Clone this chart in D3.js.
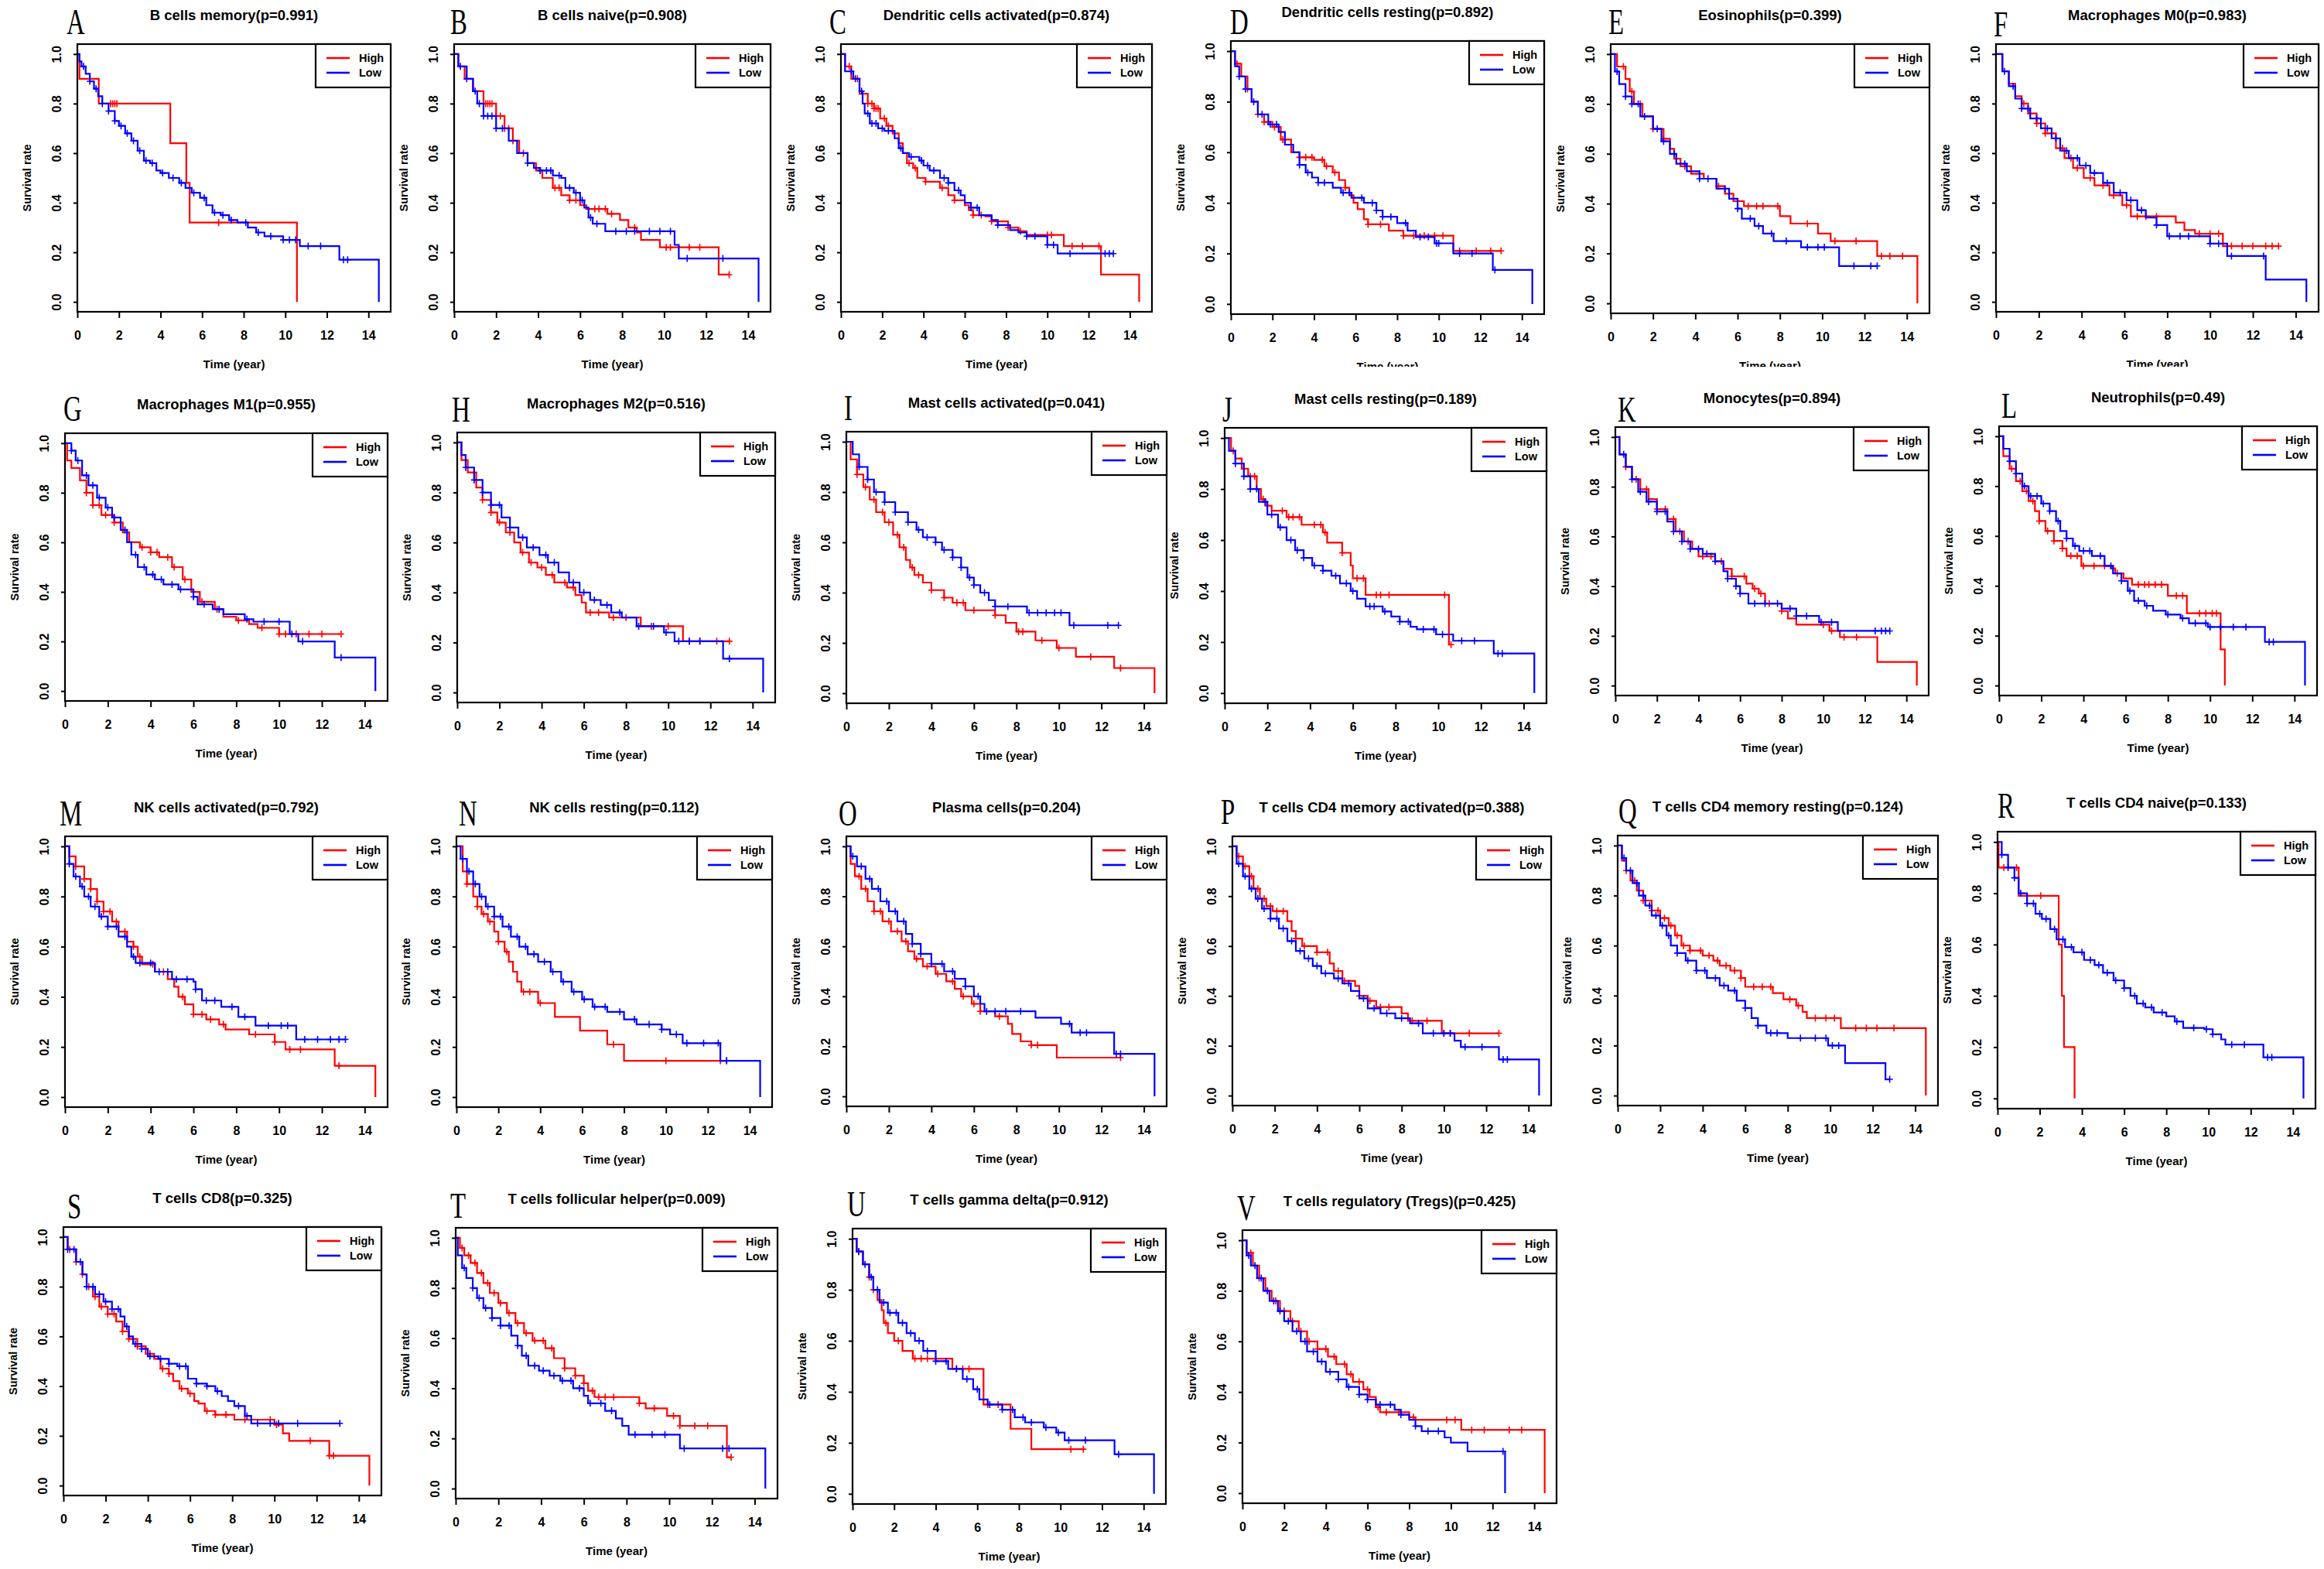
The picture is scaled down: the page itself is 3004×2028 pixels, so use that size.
<!DOCTYPE html>
<html><head><meta charset="utf-8">
<script src="https://cdn.jsdelivr.net/npm/d3@7"></script>
<style>body{margin:0;background:#fff} svg{display:block}</style>
</head><body><svg id="chart" width="3004" height="2028"></svg>
<script>
// ---------------- DATA ----------------
const letters = ["A","B","C","D","E","F","G","H","I","J","K","L","M","N","O","P","Q","R","S","T","U","V"];
const cellTypes = ["B cells memory","B cells naive","Dendritic cells activated","Dendritic cells resting","Eosinophils","Macrophages M0","Macrophages M1","Macrophages M2","Mast cells activated","Mast cells resting","Monocytes","Neutrophils","NK cells activated","NK cells resting","Plasma cells","T cells CD4 memory activated","T cells CD4 memory resting","T cells CD4 naive","T cells CD8","T cells follicular helper","T cells gamma delta","T cells regulatory (Tregs)"];
const pValues = ["0.991","0.908","0.874","0.892","0.399","0.983","0.955","0.516","0.041","0.189","0.894","0.49","0.792","0.112","0.204","0.388","0.124","0.133","0.325","0.009","0.912","0.425"];
const xTicks = [0,2,4,6,8,10,12,14];
const yTicks = [0,0.2,0.4,0.6,0.8,1.0];
const legendLabels = ["High","Low"];
const xAxisTitle = "Time (year)";
const yAxisTitle = "Survival rate";

// survival steps [time, survival] and censor times, High (red) / Low (blue)
const highA = [[0,1],[0.1,0.9],[1.03,0.8],[4.47,0.64],[5.24,0.48],[5.4,0.32],[10.56,0]];
const highA_c = [1.6,1.7,1.8,1.9,6.8];
const lowA = [[0,1],[0.1,0.97],[0.2,0.95],[0.4,0.92],[0.6,0.89],[0.8,0.86],[1.0,0.83],[1.2,0.8],[1.5,0.77],[1.8,0.73],[2.0,0.71],[2.3,0.68],[2.6,0.65],[2.9,0.61],[3.2,0.57],[3.5,0.56],[3.8,0.53],[4.0,0.52],[4.4,0.5],[4.9,0.48],[5.2,0.46],[5.5,0.44],[5.9,0.42],[6.2,0.39],[6.5,0.36],[6.9,0.35],[7.3,0.33],[7.7,0.32],[8.2,0.3],[8.6,0.28],[9.0,0.265],[9.9,0.25],[10.7,0.225],[12.6,0.17],[14.5,0]];
const lowA_c = [0.3,0.6,0.9,1.2,1.5,1.8,2.1,2.4,2.7,3.0,3.3,3.6,4.1,4.6,5.0,5.6,6.1,6.6,7.0,7.4,8.1,8.7,9.3,9.9,10.2,10.5,11.1,11.7,12.8,13.0];

const highB = [[0,1],[0.2,0.95],[0.5,0.9],[0.9,0.85],[1.4,0.8],[2.0,0.75],[2.4,0.7],[2.8,0.65],[3.1,0.6],[3.5,0.56],[3.9,0.53],[4.2,0.5],[4.7,0.46],[5.1,0.43],[5.5,0.41],[6.0,0.39],[6.3,0.375],[7.3,0.355],[7.9,0.33],[8.3,0.3],[8.7,0.28],[8.9,0.25],[9.8,0.22],[12.6,0.11]];
const highB_c = [1.5,1.6,1.7,1.8,2.0,2.2,2.4,2.6,2.8,3.3,4.1,4.8,5.0,5.5,5.8,6.7,6.9,7.2,7.5,8.6,10.1,10.3,11.2,11.7,13.1];
const lowB = [[0,1],[0.2,0.95],[0.6,0.9],[0.9,0.85],[1.1,0.8],[1.4,0.75],[2.0,0.7],[2.6,0.65],[3.0,0.6],[3.5,0.56],[3.8,0.54],[4.1,0.53],[4.7,0.51],[5.1,0.5],[5.3,0.46],[5.7,0.44],[6.0,0.41],[6.2,0.38],[6.4,0.34],[6.6,0.315],[7.2,0.285],[10.5,0.23],[10.7,0.175],[14.5,0]];
const lowB_c = [0.3,0.6,1.0,1.2,1.4,1.6,1.8,2.0,2.3,3.5,4.1,4.4,4.6,5.0,5.5,5.8,6.1,6.5,6.8,7.7,8.2,8.6,9.3,9.8,10.3,11.1,12.8];

const highC = [[0,1],[0.2,0.95],[0.5,0.9],[0.9,0.84],[1.3,0.8],[1.6,0.78],[1.9,0.74],[2.2,0.71],[2.5,0.68],[2.8,0.64],[3.0,0.6],[3.2,0.56],[3.5,0.54],[3.7,0.5],[4.1,0.485],[4.8,0.46],[5.2,0.43],[5.5,0.41],[6.0,0.39],[6.2,0.37],[6.4,0.35],[7.0,0.345],[7.3,0.325],[8.1,0.3],[8.6,0.285],[9.0,0.27],[10.8,0.225],[12.6,0.11],[14.45,0]];
const highC_c = [0.4,0.8,1.3,1.5,1.6,1.7,1.8,2.1,2.3,3.3,3.6,4.1,4.9,5.5,6.4,6.8,7.3,8.1,8.7,10.0,10.2,11.2,11.7,12.5];
const lowC = [[0,1],[0.2,0.93],[0.6,0.9],[0.9,0.85],[1.05,0.8],[1.15,0.76],[1.4,0.72],[1.8,0.7],[2.1,0.69],[2.6,0.66],[2.8,0.62],[3.0,0.6],[3.3,0.585],[3.8,0.57],[4.0,0.55],[4.3,0.53],[4.8,0.5],[5.2,0.48],[5.5,0.45],[5.8,0.43],[6.0,0.4],[6.3,0.38],[6.7,0.35],[7.3,0.33],[7.6,0.31],[8.2,0.29],[8.6,0.28],[9.0,0.265],[10.0,0.23],[10.5,0.195]];
const lowC_c = [0.5,0.7,1.0,1.3,1.5,1.7,2.0,2.3,2.9,3.4,3.9,4.2,4.5,5.0,5.2,5.7,6.3,6.6,7.6,9.0,9.4,10.0,10.3,11.1,12.8,13.0,13.2];

const highD = [[0,1],[0.2,0.95],[0.5,0.9],[0.8,0.85],[1.0,0.8],[1.3,0.75],[1.6,0.72],[2.0,0.7],[2.4,0.65],[2.9,0.6],[3.3,0.58],[4.0,0.57],[4.5,0.545],[4.9,0.52],[5.2,0.49],[5.5,0.46],[5.7,0.43],[5.9,0.4],[6.1,0.375],[6.4,0.335],[6.6,0.315],[7.6,0.29],[8.3,0.27],[10.7,0.21]];
const highD_c = [0.3,0.8,1.3,1.6,2.1,2.5,3.3,3.6,3.9,4.4,4.6,5.0,5.5,6.6,7.2,8.3,8.8,9.3,9.8,10.2,11.0,11.8,12.5,13.0];
const lowD = [[0,1],[0.2,0.94],[0.4,0.9],[0.7,0.85],[1.0,0.8],[1.3,0.75],[1.8,0.71],[2.3,0.68],[2.6,0.63],[3.0,0.6],[3.3,0.55],[3.6,0.52],[3.9,0.5],[4.2,0.48],[4.9,0.46],[5.3,0.44],[5.8,0.42],[6.4,0.4],[7.0,0.37],[7.3,0.345],[8.0,0.32],[8.5,0.29],[8.9,0.265],[9.8,0.24],[10.7,0.2],[12.6,0.135],[14.5,0]];
const lowD_c = [0.4,0.7,1.1,1.5,1.9,2.2,3.3,3.7,4.2,4.5,5.4,5.7,6.3,6.8,7.0,7.3,7.7,8.4,9.1,9.5,9.9,10.0,11.0,11.6,12.7];

const highE = [[0,1],[0.3,0.95],[0.7,0.9],[0.9,0.85],[1.1,0.8],[1.5,0.75],[2.0,0.7],[2.5,0.66],[2.8,0.62],[3.0,0.58],[3.3,0.55],[3.8,0.52],[4.4,0.5],[5.0,0.47],[5.4,0.44],[5.8,0.41],[6.3,0.39],[8.0,0.35],[8.5,0.32],[9.8,0.28],[10.4,0.25],[12.6,0.19],[14.5,0]];
const highE_c = [0.6,1.0,1.4,2.0,2.5,3.5,4.2,5.1,6.5,6.9,7.2,7.9,9.3,10.6,11.6,12.8,13.2,13.8];
const lowE = [[0,1],[0.2,0.93],[0.4,0.88],[0.7,0.83],[1.0,0.8],[1.4,0.75],[2.0,0.7],[2.4,0.65],[2.8,0.6],[3.1,0.56],[3.6,0.53],[4.2,0.5],[5.0,0.46],[5.6,0.42],[6.0,0.38],[6.2,0.34],[6.8,0.31],[7.2,0.28],[7.7,0.25],[9.0,0.225],[10.8,0.15]];
const lowE_c = [0.3,0.7,1.0,1.3,1.6,2.2,2.5,3.0,3.5,4.2,4.6,5.4,6.0,6.6,7.0,7.6,8.3,9.3,9.8,10.1,11.5,12.3,12.6];

const highF = [[0,1],[0.3,0.93],[0.6,0.88],[0.9,0.83],[1.2,0.8],[1.5,0.76],[1.9,0.72],[2.3,0.68],[2.8,0.62],[3.2,0.58],[3.6,0.54],[4.1,0.5],[4.6,0.47],[5.3,0.43],[5.9,0.39],[6.3,0.345],[8.4,0.32],[8.8,0.29],[9.3,0.275],[10.6,0.225]];
const highF_c = [1.3,1.6,1.9,2.3,2.6,3.1,3.5,3.8,4.4,5.0,5.5,6.1,6.6,7.0,7.5,9.5,10.0,10.4,11.0,11.5,12.0,12.6,12.9,13.2];
const lowF = [[0,1],[0.3,0.93],[0.6,0.87],[0.9,0.82],[1.2,0.78],[1.6,0.74],[2.1,0.7],[2.6,0.66],[3.0,0.61],[3.4,0.58],[3.9,0.55],[4.4,0.52],[5.0,0.48],[5.5,0.44],[6.1,0.41],[6.6,0.37],[7.0,0.34],[7.5,0.31],[8.0,0.265],[10.0,0.235],[10.8,0.185],[12.6,0.09],[14.5,0]];
const lowF_c = [0.4,0.8,1.2,1.5,1.9,2.4,2.8,3.3,3.8,4.2,4.6,5.2,5.8,6.3,6.8,7.5,8.1,8.6,9.0,10.0,10.4,11.0,12.5];

const highG = [[0,1],[0.1,0.93],[0.3,0.9],[0.7,0.85],[1.0,0.8],[1.3,0.75],[1.7,0.71],[2.3,0.68],[2.7,0.64],[3.0,0.6],[3.5,0.58],[4.0,0.56],[4.4,0.54],[5.0,0.5],[5.5,0.45],[5.9,0.4],[6.3,0.36],[7.0,0.33],[7.4,0.3],[8.0,0.285],[8.6,0.27],[9.0,0.255],[10.0,0.23]];
const highG_c = [1.0,1.3,1.6,1.9,2.3,3.6,4.0,4.3,4.8,5.1,5.6,6.4,7.1,8.1,9.2,10.0,10.3,10.8,11.4,12.0,12.9];
const lowG = [[0,1],[0.3,0.97],[0.5,0.93],[0.8,0.87],[1.1,0.83],[1.5,0.78],[1.9,0.74],[2.2,0.7],[2.6,0.65],[2.9,0.6],[3.1,0.55],[3.4,0.5],[3.8,0.47],[4.2,0.45],[4.6,0.43],[5.3,0.41],[6.0,0.38],[6.2,0.35],[6.9,0.33],[7.4,0.31],[8.4,0.29],[8.8,0.28],[10.5,0.23],[10.9,0.2],[12.6,0.135],[14.5,0]];
const lowG_c = [0.3,0.6,1.0,1.3,1.6,2.0,2.3,2.8,3.3,3.7,4.1,4.5,5.0,5.4,6.0,6.5,7.2,8.5,9.3,10.0,10.6,11.1,12.9];

const highH = [[0,1],[0.2,0.93],[0.5,0.88],[0.9,0.82],[1.2,0.77],[1.6,0.72],[1.9,0.68],[2.3,0.64],[2.7,0.6],[3.0,0.56],[3.4,0.52],[3.8,0.5],[4.2,0.47],[4.6,0.44],[5.2,0.42],[5.6,0.39],[5.9,0.36],[6.1,0.32],[7.2,0.3],[8.7,0.265],[10.7,0.205]];
const highH_c = [0.8,1.2,1.6,2.0,2.5,3.1,3.5,4.0,4.5,5.1,5.5,6.3,6.7,7.4,8.0,9.2,10.0,11.0,11.5,12.3,12.9];
const lowH = [[0,1],[0.2,0.95],[0.4,0.9],[0.8,0.85],[1.2,0.8],[1.6,0.75],[2.1,0.7],[2.5,0.66],[2.9,0.62],[3.3,0.58],[3.9,0.55],[4.3,0.52],[4.8,0.48],[5.3,0.44],[5.8,0.4],[6.3,0.37],[6.8,0.35],[7.3,0.32],[7.8,0.3],[8.5,0.265],[9.8,0.24],[10.3,0.205],[12.6,0.135],[14.5,0]];
const lowH_c = [0.4,0.8,1.2,1.6,2.0,2.5,3.1,3.6,4.2,4.6,5.5,6.0,6.5,7.1,7.7,8.6,9.3,9.9,10.5,11.0,11.5,12.9];

const highI = [[0,1],[0.2,0.93],[0.5,0.87],[0.8,0.82],[1.1,0.77],[1.4,0.72],[1.8,0.68],[2.2,0.63],[2.5,0.58],[2.8,0.53],[3.0,0.5],[3.2,0.47],[3.6,0.44],[4.0,0.41],[4.6,0.38],[5.0,0.36],[5.6,0.33],[7.0,0.31],[7.5,0.28],[8.0,0.245],[8.9,0.21],[9.9,0.18],[10.8,0.145],[12.6,0.1],[14.5,0]];
const highI_c = [0.5,0.9,1.3,1.7,2.0,2.4,2.7,3.1,3.4,4.0,4.6,5.2,5.5,6.0,7.0,8.1,8.3,9.2,10.0,11.5,12.9];
const lowI = [[0,1],[0.3,0.95],[0.6,0.9],[1.0,0.85],[1.3,0.8],[1.8,0.76],[2.3,0.72],[2.9,0.68],[3.3,0.65],[3.6,0.62],[4.2,0.6],[4.5,0.57],[5.0,0.54],[5.4,0.5],[5.7,0.46],[6.0,0.43],[6.3,0.4],[6.7,0.37],[7.0,0.345],[8.5,0.32],[10.5,0.27]];
const lowI_c = [0.6,1.0,1.4,1.8,2.3,2.9,3.4,3.8,4.2,4.6,5.0,5.4,5.8,6.0,6.5,7.0,7.6,8.6,9.0,9.4,9.8,10.1,10.7,12.3,12.8];

const highJ = [[0,1],[0.3,0.95],[0.5,0.92],[0.8,0.88],[1.1,0.85],[1.5,0.8],[1.7,0.76],[1.9,0.735],[2.2,0.715],[2.9,0.69],[3.6,0.66],[4.6,0.63],[4.8,0.59],[5.5,0.55],[5.9,0.5],[6.0,0.45],[6.6,0.385],[10.5,0.19]];
const highJ_c = [0.4,0.9,1.2,1.4,1.8,2.7,3.0,3.2,3.5,4.2,4.5,4.7,5.5,6.2,6.5,7.1,7.3,7.7,10.3,10.6];
const lowJ = [[0,1],[0.2,0.95],[0.5,0.9],[0.9,0.85],[1.2,0.8],[1.6,0.75],[2.0,0.7],[2.5,0.65],[2.9,0.6],[3.3,0.56],[3.7,0.53],[4.1,0.5],[4.6,0.48],[5.0,0.46],[5.4,0.43],[5.9,0.4],[6.2,0.37],[6.6,0.34],[7.4,0.32],[7.8,0.3],[8.2,0.28],[8.7,0.26],[9.0,0.25],[9.9,0.23],[10.7,0.205],[12.6,0.155],[14.5,0]];
const lowJ_c = [0.5,0.9,1.2,1.5,1.9,2.2,2.6,3.1,3.4,3.7,4.2,4.6,5.2,5.7,6.0,6.8,7.0,7.5,8.2,8.6,9.3,9.8,10.2,11.1,11.7,12.8,13.0];

const highK = [[0,1],[0.2,0.93],[0.5,0.88],[0.8,0.83],[1.2,0.79],[1.6,0.75],[2.0,0.71],[2.5,0.67],[2.9,0.62],[3.3,0.58],[3.7,0.55],[4.0,0.52],[4.8,0.5],[5.2,0.47],[5.6,0.44],[6.3,0.41],[6.6,0.39],[6.9,0.37],[7.2,0.33],[8.0,0.3],[8.3,0.27],[8.7,0.245],[10.3,0.22],[10.8,0.195],[12.6,0.095],[14.5,0]];
const highK_c = [0.5,1.0,1.5,2.0,2.4,2.8,3.1,3.5,4.2,4.6,5.1,5.6,6.2,6.7,7.0,7.4,8.0,10.0,10.4,11.0,11.6];
const lowK = [[0,1],[0.2,0.93],[0.5,0.88],[0.8,0.83],[1.1,0.78],[1.5,0.74],[2.0,0.7],[2.5,0.66],[2.8,0.62],[3.2,0.58],[3.6,0.55],[4.2,0.53],[4.8,0.5],[5.2,0.46],[5.4,0.43],[5.8,0.4],[6.0,0.37],[6.4,0.33],[8.0,0.31],[8.7,0.28],[9.8,0.255],[10.7,0.22]];
const lowK_c = [0.4,0.8,1.2,1.6,2.0,2.4,2.8,3.2,3.6,4.0,4.4,4.8,5.4,5.8,6.0,6.7,7.2,7.8,8.4,8.7,9.2,9.9,10.4,12.5,12.8,13.0,13.2];

const highL = [[0,1],[0.2,0.92],[0.5,0.87],[0.8,0.82],[1.1,0.78],[1.4,0.74],[1.7,0.7],[1.9,0.66],[2.2,0.62],[2.6,0.58],[3.0,0.55],[3.2,0.52],[3.9,0.48],[5.3,0.47],[5.5,0.45],[5.9,0.43],[6.3,0.405],[8.0,0.36],[8.9,0.29],[10.5,0.145],[10.7,0]];
const highL_c = [0.6,1.0,1.3,1.6,1.9,2.3,2.6,3.0,3.4,3.7,4.0,4.5,5.0,5.6,6.6,6.9,7.1,7.4,7.7,8.4,8.7,9.5,9.8,10.1,10.3];
const lowL = [[0,1],[0.2,0.95],[0.5,0.9],[0.8,0.85],[1.1,0.8],[1.4,0.76],[2.0,0.73],[2.4,0.7],[2.7,0.66],[2.9,0.62],[3.2,0.59],[3.5,0.56],[3.8,0.54],[4.4,0.52],[5.0,0.48],[5.4,0.45],[5.8,0.42],[6.1,0.38],[6.4,0.34],[6.9,0.32],[7.3,0.3],[7.9,0.285],[8.6,0.27],[9.0,0.25],[9.9,0.235],[12.6,0.175],[14.5,0]];
const lowL_c = [0.5,0.8,1.2,1.5,1.8,2.1,2.4,2.8,3.2,3.6,4.0,4.3,4.8,5.3,5.8,6.2,6.6,7.0,8.0,8.7,9.3,9.8,10.0,10.5,11.1,11.7,12.8,13.0];

const highM = [[0,1],[0.2,0.96],[0.5,0.92],[0.9,0.87],[1.2,0.83],[1.5,0.78],[1.8,0.74],[2.2,0.7],[2.5,0.66],[2.9,0.62],[3.2,0.6],[3.4,0.56],[3.6,0.53],[4.2,0.5],[4.8,0.47],[5.1,0.44],[5.3,0.4],[5.6,0.37],[6.0,0.33],[6.6,0.31],[7.2,0.29],[7.5,0.27],[8.6,0.25],[9.8,0.22],[10.3,0.19],[12.6,0.125],[14.5,0]];
const highM_c = [0.5,0.9,1.2,1.5,1.8,2.1,2.4,2.8,3.2,3.5,4.1,4.6,5.5,6.0,6.4,6.8,7.4,8.9,9.8,10.5,11.0,12.8];
const lowM = [[0,1],[0.2,0.93],[0.4,0.88],[0.7,0.84],[0.9,0.8],[1.2,0.76],[1.6,0.72],[2.0,0.68],[2.5,0.64],[2.9,0.6],[3.1,0.56],[3.3,0.535],[4.2,0.5],[5.0,0.47],[6.0,0.46],[6.1,0.43],[6.4,0.385],[7.3,0.36],[8.1,0.32],[8.9,0.285],[10.8,0.23]];
const lowM_c = [0.2,0.5,0.8,1.1,1.4,1.7,2.0,2.4,2.8,3.2,3.5,4.0,4.4,4.8,5.2,5.7,6.1,6.6,7.0,7.8,8.4,9.5,10.1,10.4,11.2,11.8,12.4,12.8,13.1];

const highN = [[0,1],[0.3,0.9],[0.5,0.85],[0.8,0.8],[1.0,0.76],[1.2,0.73],[1.5,0.7],[1.8,0.66],[2.0,0.62],[2.3,0.58],[2.5,0.54],[2.7,0.5],[2.9,0.46],[3.1,0.42],[3.9,0.375],[4.7,0.32],[5.9,0.265],[7.2,0.21],[8.0,0.145]];
const highN_c = [0.5,1.0,1.3,1.6,2.0,2.4,3.2,3.5,4.0,7.5,10.0,12.6,12.9];
const lowN = [[0,1],[0.2,0.95],[0.5,0.9],[0.8,0.85],[1.1,0.8],[1.4,0.76],[1.8,0.72],[2.2,0.68],[2.6,0.64],[3.0,0.6],[3.4,0.57],[3.9,0.54],[4.5,0.5],[5.0,0.46],[5.5,0.42],[6.0,0.39],[6.5,0.36],[7.2,0.34],[8.0,0.31],[8.6,0.29],[9.8,0.27],[10.2,0.25],[10.8,0.215],[12.6,0.145],[14.5,0]];
const lowN_c = [0.3,0.6,0.9,1.2,1.5,1.8,2.1,2.5,2.9,3.3,3.7,4.2,4.6,5.1,5.6,6.1,6.6,7.1,7.8,8.5,9.2,9.8,10.5,11.0,11.8,12.5,12.9];

const highO = [[0,1],[0.2,0.93],[0.4,0.88],[0.7,0.83],[1.0,0.78],[1.3,0.74],[1.7,0.7],[2.1,0.66],[2.6,0.62],[2.9,0.58],[3.2,0.55],[3.6,0.52],[4.2,0.49],[4.7,0.46],[5.1,0.43],[5.4,0.4],[5.9,0.37],[6.3,0.34],[7.0,0.32],[7.6,0.29],[7.8,0.25],[8.2,0.22],[8.7,0.205],[9.9,0.155]];
const highO_c = [0.6,0.9,1.3,1.6,2.0,2.4,2.8,3.3,3.8,4.3,5.0,5.5,6.0,6.3,7.2,8.7,9.0,12.9];
const lowO = [[0,1],[0.2,0.96],[0.5,0.92],[0.9,0.87],[1.2,0.83],[1.6,0.78],[2.0,0.74],[2.4,0.7],[2.8,0.65],[3.1,0.61],[3.5,0.57],[4.0,0.53],[4.6,0.5],[5.1,0.47],[5.6,0.44],[6.0,0.4],[6.3,0.37],[6.5,0.34],[8.9,0.315],[10.1,0.29],[10.6,0.255],[12.6,0.17],[14.5,0]];
const lowO_c = [0.3,0.7,1.1,1.5,1.9,2.3,2.7,3.1,3.5,4.0,4.5,5.0,5.6,6.2,6.6,7.0,7.5,8.2,10.5,11.0,11.3,12.7,12.9];

const highP = [[0,1],[0.2,0.96],[0.5,0.92],[0.8,0.88],[1.0,0.83],[1.3,0.79],[1.6,0.76],[1.9,0.74],[2.6,0.7],[2.8,0.66],[3.0,0.63],[3.3,0.6],[4.0,0.575],[4.6,0.53],[4.8,0.5],[5.2,0.46],[5.8,0.44],[6.0,0.4],[6.4,0.38],[6.8,0.355],[8.0,0.33],[8.3,0.3],[9.9,0.25]];
const highP_c = [0.3,0.6,0.9,1.2,1.5,1.8,2.1,2.4,3.0,3.4,4.0,4.5,5.0,5.3,6.0,6.5,7.0,7.4,8.5,9.2,10.0,10.3,11.2,12.6];
const lowP = [[0,1],[0.2,0.93],[0.5,0.88],[0.8,0.83],[1.1,0.79],[1.4,0.75],[1.8,0.71],[2.2,0.67],[2.6,0.62],[3.0,0.58],[3.4,0.55],[3.8,0.52],[4.2,0.49],[4.8,0.47],[5.2,0.45],[5.6,0.42],[6.0,0.39],[6.4,0.35],[7.0,0.33],[7.7,0.31],[8.4,0.29],[9.0,0.25],[10.5,0.22],[10.8,0.195],[12.6,0.145],[14.5,0]];
const lowP_c = [0.3,0.6,0.9,1.2,1.5,1.8,2.1,2.4,2.8,3.2,3.6,4.0,4.4,5.0,5.5,6.2,6.7,7.3,8.0,8.8,9.5,10.0,10.3,11.0,11.8,12.8,13.0];

const highQ = [[0,1],[0.2,0.94],[0.4,0.9],[0.6,0.86],[0.9,0.82],[1.2,0.78],[1.6,0.74],[2.0,0.71],[2.4,0.68],[2.7,0.64],[3.0,0.6],[3.4,0.58],[4.0,0.56],[4.5,0.54],[4.8,0.52],[5.3,0.5],[5.8,0.47],[6.0,0.435],[7.3,0.41],[7.8,0.385],[8.4,0.36],[8.7,0.335],[8.9,0.31],[10.5,0.27],[14.5,0]];
const highQ_c = [0.4,0.8,1.2,1.6,1.9,2.2,2.5,2.8,3.1,3.4,3.9,4.3,4.7,5.1,5.5,5.8,6.4,6.8,7.2,8.1,8.5,9.3,9.8,10.2,11.2,11.7,12.2,13.0];
const lowQ = [[0,1],[0.2,0.95],[0.4,0.9],[0.7,0.85],[1.0,0.8],[1.3,0.76],[1.6,0.72],[2.0,0.68],[2.3,0.64],[2.5,0.6],[2.8,0.57],[3.2,0.54],[3.7,0.5],[4.2,0.47],[4.8,0.44],[5.2,0.42],[5.6,0.38],[6.0,0.35],[6.3,0.31],[6.6,0.28],[7.0,0.25],[8.0,0.23],[9.9,0.2],[10.7,0.13],[12.6,0.065]];
const lowQ_c = [0.3,0.6,0.9,1.2,1.5,1.8,2.1,2.4,2.8,3.3,3.7,4.1,4.6,5.0,5.5,6.0,6.6,7.2,7.5,8.6,9.3,9.8,10.1,10.4,12.8];

const highR = [[0,1],[0.05,0.9],[1.0,0.79],[2.9,0.6],[3.05,0.4],[3.15,0.2],[3.65,0]];
const highR_c = [0.3,0.9,2.05];
const lowR = [[0,1],[0.2,0.95],[0.5,0.9],[0.8,0.86],[1.0,0.8],[1.4,0.76],[1.8,0.72],[2.1,0.7],[2.5,0.66],[2.8,0.62],[3.2,0.59],[3.6,0.57],[4.1,0.54],[4.6,0.52],[5.0,0.49],[5.5,0.46],[6.0,0.43],[6.3,0.4],[6.6,0.37],[7.0,0.355],[7.4,0.335],[8.0,0.32],[8.4,0.3],[8.8,0.275],[9.8,0.27],[10.2,0.25],[10.6,0.23],[10.8,0.21],[12.6,0.16],[14.5,0]];
const lowR_c = [0.2,0.5,0.8,1.1,1.4,1.7,2.0,2.3,2.7,3.1,3.5,4.0,4.4,4.8,5.2,5.6,6.0,6.5,6.9,7.3,7.8,8.5,9.3,9.9,10.2,11.1,11.7,12.8,13.0];

const highS = [[0,1],[0.2,0.95],[0.6,0.9],[0.9,0.85],[1.1,0.8],[1.4,0.76],[1.7,0.72],[2.1,0.69],[2.5,0.66],[2.8,0.62],[3.1,0.59],[3.5,0.56],[3.9,0.53],[4.3,0.51],[4.6,0.47],[5.0,0.45],[5.2,0.42],[5.5,0.39],[5.9,0.37],[6.2,0.34],[6.4,0.33],[6.7,0.3],[7.2,0.285],[8.1,0.265],[10.0,0.245],[10.4,0.21],[10.7,0.18],[12.6,0.12],[14.5,0]];
const highS_c = [0.3,0.6,0.9,1.2,1.5,1.8,2.1,2.4,2.8,3.1,3.5,4.1,4.7,5.0,5.6,6.0,6.8,7.2,7.7,8.6,9.8,10.1,11.7,12.6,12.8];
const lowS = [[0,1],[0.2,0.95],[0.6,0.9],[0.9,0.85],[1.1,0.8],[1.5,0.77],[1.9,0.74],[2.3,0.71],[2.7,0.68],[2.9,0.64],[3.1,0.6],[3.3,0.57],[3.7,0.55],[4.0,0.52],[4.5,0.51],[5.0,0.49],[5.4,0.48],[5.9,0.43],[6.3,0.41],[6.8,0.4],[7.2,0.38],[7.5,0.36],[7.8,0.34],[8.1,0.32],[8.6,0.28],[8.9,0.25]];
const lowS_c = [0.2,0.5,0.8,1.1,1.4,1.7,2.0,2.3,2.6,3.0,3.4,3.7,4.1,4.6,5.0,5.5,5.8,6.3,6.8,7.3,8.3,8.7,9.2,9.8,10.2,11.1,13.1];

const highT = [[0,1],[0.2,0.96],[0.4,0.93],[0.7,0.9],[1.0,0.86],[1.3,0.82],[1.6,0.78],[2.0,0.74],[2.4,0.7],[2.8,0.66],[3.2,0.62],[3.6,0.59],[4.2,0.56],[4.6,0.52],[5.1,0.48],[5.6,0.45],[6.0,0.42],[6.2,0.39],[6.5,0.365],[8.6,0.34],[8.9,0.32],[9.9,0.29],[10.5,0.25],[12.7,0.125]];
const highT_c = [0.3,0.6,0.9,1.2,1.5,1.8,2.1,2.5,2.9,3.3,3.7,4.1,4.5,5.1,5.6,6.0,6.4,6.7,7.0,7.4,8.6,9.3,10.2,10.5,11.2,11.8,12.9];
const lowT = [[0,1],[0.1,0.93],[0.3,0.88],[0.5,0.84],[0.8,0.8],[1.0,0.76],[1.3,0.72],[1.7,0.68],[2.1,0.65],[2.6,0.61],[2.9,0.57],[3.1,0.53],[3.4,0.49],[3.9,0.47],[4.4,0.45],[4.9,0.43],[5.5,0.4],[6.0,0.37],[6.2,0.34],[7.0,0.31],[7.5,0.28],[7.8,0.25],[8.1,0.215],[10.5,0.16],[14.5,0]];
const lowT_c = [0.4,0.8,1.1,1.4,1.7,2.1,2.5,2.9,3.3,3.7,4.1,4.6,5.0,5.4,5.8,6.3,6.8,7.3,8.4,9.2,9.8,10.7,12.5,12.8];

const highU = [[0,1],[0.2,0.95],[0.5,0.9],[0.8,0.85],[1.0,0.8],[1.2,0.76],[1.4,0.72],[1.5,0.67],[1.7,0.63],[2.0,0.6],[2.4,0.56],[2.9,0.53],[4.8,0.49],[6.3,0.35],[7.6,0.255],[8.6,0.175]];
const highU_c = [0.3,0.8,1.0,1.6,2.2,3.0,3.3,3.6,5.0,5.3,5.6,6.5,7.0,10.5,11.1];
const lowU = [[0,1],[0.2,0.95],[0.5,0.9],[0.8,0.85],[1.0,0.8],[1.3,0.75],[1.7,0.71],[2.2,0.67],[2.6,0.63],[3.0,0.6],[3.4,0.56],[4.0,0.52],[4.6,0.49],[5.3,0.45],[5.8,0.41],[6.1,0.37],[6.5,0.35],[7.2,0.33],[7.8,0.3],[8.3,0.28],[9.2,0.26],[9.8,0.24],[10.2,0.21],[12.6,0.155],[14.5,0]];
const lowU_c = [0.3,0.6,0.9,1.2,1.5,1.8,2.1,2.4,2.8,3.2,3.6,4.0,4.5,5.0,5.5,6.0,6.6,7.2,7.7,8.2,8.6,9.3,9.9,10.4,11.2,12.8];

const highV = [[0,1],[0.2,0.95],[0.5,0.9],[0.8,0.85],[1.1,0.8],[1.4,0.76],[1.8,0.72],[2.3,0.68],[2.7,0.64],[3.1,0.6],[3.6,0.57],[4.1,0.54],[4.5,0.51],[5.0,0.47],[5.3,0.44],[5.8,0.41],[6.1,0.38],[6.4,0.34],[6.6,0.32],[8.0,0.3],[8.3,0.29],[10.5,0.25],[14.5,0]];
const highV_c = [0.4,0.8,1.2,1.6,2.0,2.4,2.8,3.2,3.6,4.0,4.4,4.9,5.2,5.6,6.0,6.5,6.9,7.5,8.2,9.8,10.2,11.0,11.6,12.8,13.4];
const lowV = [[0,1],[0.2,0.94],[0.4,0.9],[0.7,0.85],[1.0,0.8],[1.3,0.76],[1.7,0.72],[2.0,0.68],[2.4,0.64],[2.8,0.6],[3.1,0.56],[3.6,0.52],[4.0,0.48],[4.6,0.45],[5.0,0.42],[5.6,0.39],[6.0,0.37],[6.4,0.35],[7.3,0.33],[7.6,0.31],[8.0,0.29],[8.3,0.265],[8.6,0.245],[9.7,0.22],[10.0,0.2],[10.8,0.165],[12.6,0]];
const lowV_c = [0.3,0.6,0.9,1.2,1.5,1.8,2.2,2.6,3.0,3.4,3.8,4.2,4.6,5.1,5.6,6.0,6.6,7.1,7.6,8.3,8.9,9.4,12.5];

const highCurves = [highA,highB,highC,highD,highE,highF,highG,highH,highI,highJ,highK,highL,highM,highN,highO,highP,highQ,highR,highS,highT,highU,highV];
const highCensors = [highA_c,highB_c,highC_c,highD_c,highE_c,highF_c,highG_c,highH_c,highI_c,highJ_c,highK_c,highL_c,highM_c,highN_c,highO_c,highP_c,highQ_c,highR_c,highS_c,highT_c,highU_c,highV_c];
const lowCurves = [lowA,lowB,lowC,lowD,lowE,lowF,lowG,lowH,lowI,lowJ,lowK,lowL,lowM,lowN,lowO,lowP,lowQ,lowR,lowS,lowT,lowU,lowV];
const lowCensors = [lowA_c,lowB_c,lowC_c,lowD_c,lowE_c,lowF_c,lowG_c,lowH_c,lowI_c,lowJ_c,lowK_c,lowL_c,lowM_c,lowN_c,lowO_c,lowP_c,lowQ_c,lowR_c,lowS_c,lowT_c,lowU_c,lowV_c];

// ---------------- LAYOUT (pixel geometry of each panel) ----------------
const panelBoxes = [
  [100,57,505,403],[587,57,996,403],[1087,57,1489,403],[1591,53,1996,406],[2082,57,2494,405],[2580,57,2997,403],
  [84,560,501,906],[591,559,1002,908],[1094,558,1508,909],[1583,553,1999,909],[2088,552,2493,899],[2584,551,2995,899],
  [84,1081,501,1431],[590,1081,998,1431],[1094,1081,1508,1430],[1593,1081,2005,1429],[2091,1080,2505,1429],[2582,1075,2993,1433],
  [82,1586,493,1933],[589,1587,1005,1937],[1102,1588,1507,1944],[1606,1590,2012,1943]
];
const letterPos = [
  [86,44],[582,44],[1072,44],[1590,44],[2079,44],[2577,47],
  [82,544],[584,545],[1091,543],[1580,545],[2091,545],[2587,540],
  [77,1067],[593,1067],[1084,1067],[1578,1065],[2092,1064],[2582,1057],
  [87,1575],[582,1574],[1095,1572],[1599,1577]
];
const xLabelClip = [null,null,null,474,474,474, null,null,null,null,null,null, null,null,null,null,null,null, null,null,null,null];
const curveColors = ["#ff0000","#0000ff"];
const SANS = "'Liberation Sans', Arial, Helvetica, sans-serif";
const SERIF = "'Liberation Serif', 'Times New Roman', serif";

// ---------------- DRAW ----------------
const svg = d3.select("#chart");
svg.append("rect").attr("width",3004).attr("height",2028).attr("fill","#fff");
const defs = svg.append("defs");

function survAt(steps, t) {
  let s = 1;
  for (const [a, v] of steps) if (a <= t) s = v;
  return s;
}
function pathPoints(steps, cens) {
  const pts = steps.slice();
  const last = steps[steps.length - 1];
  const maxC = d3.max(cens);
  if (last[1] > 0 && maxC > last[0]) pts.push([maxC, last[1]]);
  return pts;
}

letters.forEach((L, i) => {
  const [l, t, r, b] = panelBoxes[i];
  const x = d3.scaleLinear().domain([0, 15.07]).range([l, r]);
  const y = d3.scaleLinear().domain([-0.04, 1.04]).range([b, t]);
  const g = svg.append("g").attr("class", "panel");

  // panel letter
  g.append("text")
    .attr("transform", `translate(${letterPos[i][0]},${letterPos[i][1]}) scale(0.7,1)`)
    .attr("font-family", SERIF).attr("font-size", 47).attr("fill", "#000")
    .text(L);

  // title
  g.append("text")
    .attr("x", (l + r) / 2).attr("y", t - 31)
    .attr("text-anchor", "middle")
    .attr("font-family", SANS).attr("font-weight", "bold").attr("font-size", 18.5)
    .text(`${cellTypes[i]}(p=${pValues[i]})`);

  // x axis
  const xa = g.append("g").attr("transform", `translate(0,${b})`)
    .call(d3.axisBottom(x).tickValues(xTicks).tickSize(8).tickFormat(d3.format("d")));
  xa.select(".domain").remove();
  xa.selectAll(".tick line").attr("stroke", "#000").attr("stroke-width", 2);
  xa.selectAll(".tick text").attr("y", 36).attr("dy", null)
    .attr("font-family", SANS).attr("font-weight", "bold").attr("font-size", 16).attr("fill", "#000");

  // y axis
  const ya = g.append("g").attr("transform", `translate(${l},0)`)
    .call(d3.axisLeft(y).tickValues(yTicks).tickSize(5).tickFormat(d3.format(".1f")));
  ya.select(".domain").remove();
  ya.selectAll(".tick line").attr("stroke", "#000").attr("stroke-width", 2);
  ya.selectAll(".tick text").attr("x", 0).attr("dy", null)
    .attr("text-anchor", "middle")
    .attr("transform", "translate(-21,0) rotate(-90)")
    .attr("font-family", SANS).attr("font-weight", "bold").attr("font-size", 16).attr("fill", "#000");

  // axis titles
  const xl = g.append("text")
    .attr("x", (l + r) / 2).attr("y", b + 73)
    .attr("text-anchor", "middle")
    .attr("font-family", SANS).attr("font-weight", "bold").attr("font-size", 15)
    .text(xAxisTitle);
  if (xLabelClip[i]) {
    const id = "clip" + L;
    defs.append("clipPath").attr("id", id).append("rect")
      .attr("x", l - 100).attr("y", 0).attr("width", r - l + 200).attr("height", xLabelClip[i]);
    xl.attr("clip-path", `url(#${id})`);
  }
  g.append("text")
    .attr("transform", `translate(${l - 60},${(t + b) / 2}) rotate(-90)`)
    .attr("text-anchor", "middle")
    .attr("font-family", SANS).attr("font-weight", "bold").attr("font-size", 14.5)
    .text(yAxisTitle);

  // curves
  const line = d3.line().x(d => x(d[0])).y(d => y(d[1])).curve(d3.curveStepAfter);
  const groups = [[highCurves[i], highCensors[i]], [lowCurves[i], lowCensors[i]]];
  groups.forEach(([steps, cens], k) => {
    g.append("path").datum(pathPoints(steps, cens))
      .attr("d", line).attr("fill", "none")
      .attr("stroke", curveColors[k]).attr("stroke-width", 2.2);
    g.append("g").selectAll("path").data(cens).join("path")
      .attr("d", c => {
        const cx = x(c), cy = y(survAt(steps, c));
        return `M${cx - 4},${cy}h8M${cx},${cy - 4.5}v9`;
      })
      .attr("stroke", curveColors[k]).attr("stroke-width", 1.6).attr("fill", "none");
  });

  // plot box
  g.append("rect").attr("x", l).attr("y", t).attr("width", r - l).attr("height", b - t)
    .attr("fill", "none").attr("stroke", "#000").attr("stroke-width", 2.2);

  // legend
  const lw = 97, lh = 56;
  const lg = g.append("g");
  lg.append("rect").attr("x", r - lw).attr("y", t).attr("width", lw).attr("height", lh)
    .attr("fill", "#fff").attr("stroke", "#000").attr("stroke-width", 2.2);
  legendLabels.forEach((lab, k) => {
    const yy = t + 18 + k * 19;
    lg.append("line").attr("x1", r - 83).attr("x2", r - 53).attr("y1", yy).attr("y2", yy)
      .attr("stroke", curveColors[k]).attr("stroke-width", 2.6);
    lg.append("text").attr("x", r - 41).attr("y", yy + 5)
      .attr("font-family", SANS).attr("font-weight", "bold").attr("font-size", 14.5)
      .text(lab);
  });
});
</script>
</body></html>
